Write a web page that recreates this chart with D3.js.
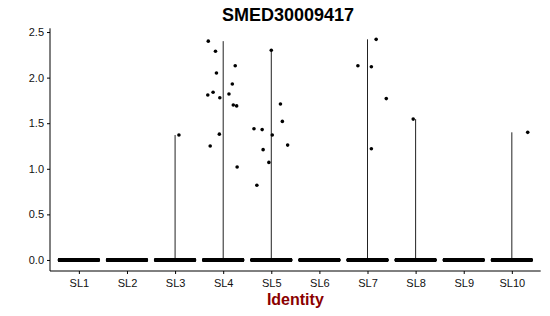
<!DOCTYPE html>
<html><head>
<meta charset="utf-8">
<script src="https://d3js.org/d3.v7.min.js"></script>
<style>
  body { margin: 0; background: #fff; }
  #violin text { font-family: "Liberation Sans", Arial, sans-serif; }
  .axis .domain, .axis line { stroke: #000; }
  .axis text { font-size: 11px; fill: #111; }
</style>
</head>
<body>
<svg id="violin" width="550" height="316"></svg>
<script>

// clusters and the cells sitting at zero expression (guess from band density)
const identities = ["SL1", "SL2", "SL3", "SL4", "SL5", "SL6", "SL7", "SL8", "SL9", "SL10"];
const zeroCounts = [300, 290, 280, 300, 270, 260, 250, 230, 220, 200];

// non-zero expression values
const expressed = {
  SL3: [1.37],
  SL4: [2.40, 2.29, 2.13, 2.05, 1.93, 1.84, 1.81, 1.82, 1.78, 1.70, 1.69, 1.38, 1.25, 1.02],
  SL5: [2.30, 1.71, 1.52, 1.44, 1.43, 1.37, 1.26, 1.21, 1.07, 0.82],
  SL7: [2.42, 2.13, 2.12, 1.77, 1.22],
  SL8: [1.545],
  SL10: [1.40]
};
// horizontal jitter of those points, in category widths
const jitter = {
  SL3: [0.08],
  SL4: [-0.31, -0.16, 0.25, -0.14, 0.19, -0.21, -0.32, 0.12, -0.07, 0.21, 0.28, -0.08, -0.27, 0.29],
  SL5: [0.0, 0.19, 0.23, -0.36, -0.19, 0.02, 0.34, -0.17, -0.05, -0.30],
  SL7: [0.18, -0.20, 0.08, 0.39, 0.08],
  SL8: [-0.05],
  SL10: [0.33]
};

const yTicks = [0, 0.5, 1.0, 1.5, 2.0, 2.5];

let svg = d3.select("#violin");
let panel = { left: 50, right: 540.7, top: 28.3, bottom: 271 };

let allMax = d3.max(Object.values(expressed).flat());
let pad = allMax * 0.05;

const xScale = d3.scalePoint().domain(identities)
  .range([panel.left, panel.right]).padding(0.6);
const bw = xScale.step();
const yScale = d3.scaleLinear().domain([-pad, allMax + pad])
  .range([panel.bottom, panel.top]);

// violins -- almost all cells are zero so they collapse to a thin line
let vio = svg.append("g");
identities.forEach(id => {
  if (!expressed[id]) return;
  let top = d3.max(expressed[id]);
  vio.append("line")
    .attr("x1", xScale(id)).attr("x2", xScale(id))
    .attr("y1", yScale(0)).attr("y2", yScale(top))
    .attr("stroke", "#222")
    .attr("stroke-width", 1);
});

// points
let pts = svg.append("g").attr("fill", "#000");
identities.forEach((id, i) => {
  let n = zeroCounts[i];
  for (let k = 0; k < n; k++) {
    let off = -0.4 + 0.8 * k / (n - 1);
    pts.append("circle")
      .attr("cx", xScale(id) + off * bw)
      .attr("cy", yScale(0))
      .attr("r", 2);
  }
  (expressed[id] || []).forEach((v, j) => {
    pts.append("circle")
      .attr("cx", xScale(id) + jitter[id][j] * bw)
      .attr("cy", yScale(v))
      .attr("r", 1.8);
  });
});

// axes
svg.append("g")
  .attr("class", "axis")
  .attr("transform", "translate(" + panel.left + ",0)")
  .call(d3.axisLeft(yScale).tickValues(yTicks).tickFormat(d3.format(".1f")).tickSize(3).tickPadding(3))
  .call(g => g.select(".domain").attr("d", "M0," + panel.top + "V" + panel.bottom));

svg.append("g")
  .attr("class", "axis")
  .attr("transform", "translate(0," + panel.bottom + ")")
  .call(d3.axisBottom(xScale).tickSize(3).tickPadding(5))
  .call(g => g.select(".domain").attr("d", "M" + panel.left + ",0H" + panel.right));

// titles
svg.append("text")
  .attr("x", 288).attr("y", 21)
  .attr("text-anchor", "middle")
  .style("font-size", "18px").style("font-weight", "bold")
  .text("SMED30009417");

svg.append("text")
  .attr("x", (panel.left + panel.right) / 2).attr("y", 305)
  .attr("text-anchor", "middle")
  .style("font-size", "16px").style("font-weight", "bold")
  .attr("fill", "#8B0000")
  .text("Identity");

</script>
</body>
</html>
